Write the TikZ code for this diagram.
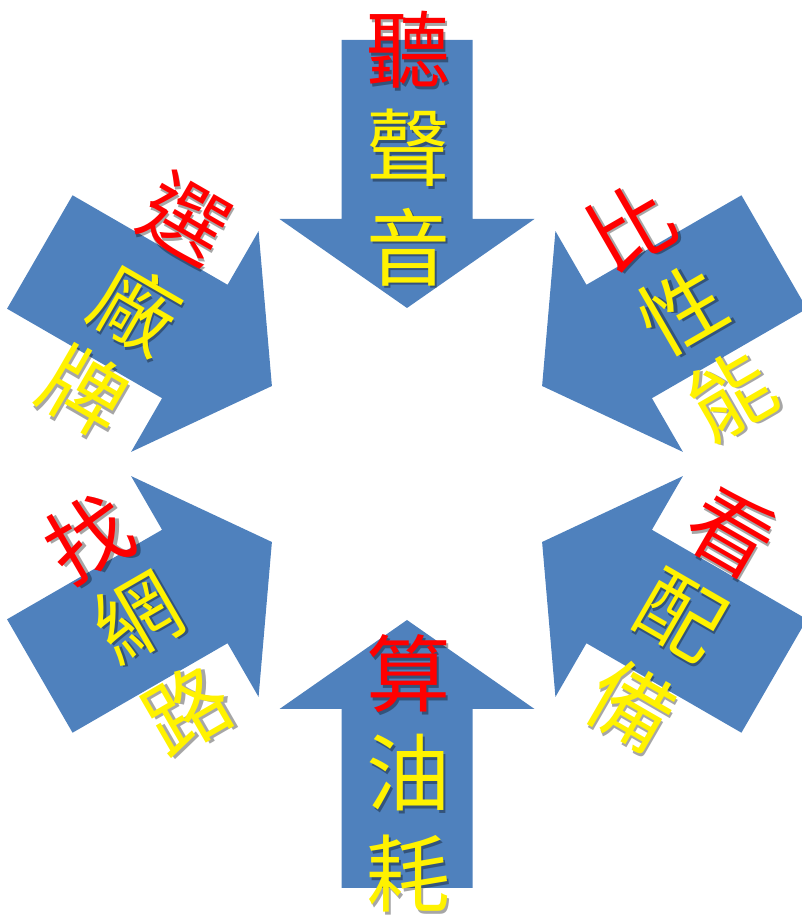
\documentclass[tikz,border=0pt]{standalone}
\usepackage{fontspec}
\newfontfamily\cjk{Noto Sans CJK TC}
\definecolor{arrowblue}{HTML}{4F81BD}
\newcommand\mychar[5]{%
  \node[ch, text=black, opacity=0.35, rotate=#3, xshift=2.5pt, yshift=-2.5pt] at (#2) {#5};
  \node[ch, text=#4, rotate=#3] (#1) at (#2) {#5};}
\begin{document}
\begin{tikzpicture}[x=1pt,y=1pt,
  ch/.style={font=\cjk\fontsize{84}{84}\selectfont, inner sep=0pt},
  blockarrow/.style={fill=arrowblue}]
\useasboundingbox (0,0) rectangle (802,918);
\coordinate (C) at (407,454);
\foreach \a in {0,60,...,300} {
  \fill[blockarrow, shift={(C)}, rotate=\a]
    (-65.5,424) -- (65.5,424) -- (65.5,245) -- (127.5,245) -- (0,156)
    -- (-127.5,245) -- (-65.5,245) -- cycle;
}
% top
\mychar{t1}{408,868}{0}{red}{聽}
\mychar{t2}{408,770}{0}{yellow}{聲}
\mychar{t3}{408,671}{0}{yellow}{音}
% bottom
\mychar{b1}{408,244}{0}{red}{算}
\mychar{b2}{408,145}{0}{yellow}{油}
\mychar{b3}{408,44}{0}{yellow}{耗}
% upper left
\mychar{ul1}{186,699}{-30}{red}{選}
\mychar{ul2}{136,610}{-30}{yellow}{廠}
\mychar{ul3}{85,527}{-30}{yellow}{牌}
% upper right
\mychar{ur1}{630,692}{30}{red}{比}
\mychar{ur2}{682,608}{30}{yellow}{性}
\mychar{ur3}{731,523}{30}{yellow}{能}
% lower left
\mychar{ll1}{89,380}{30}{red}{找}
\mychar{ll2}{137,301}{30}{yellow}{網}
\mychar{ll3}{187,208}{30}{yellow}{路}
% lower right
\mychar{lr1}{732,386}{-30}{red}{看}
\mychar{lr2}{681,302}{-30}{yellow}{配}
\mychar{lr3}{632,212}{-30}{yellow}{備}
\end{tikzpicture}
\end{document}
